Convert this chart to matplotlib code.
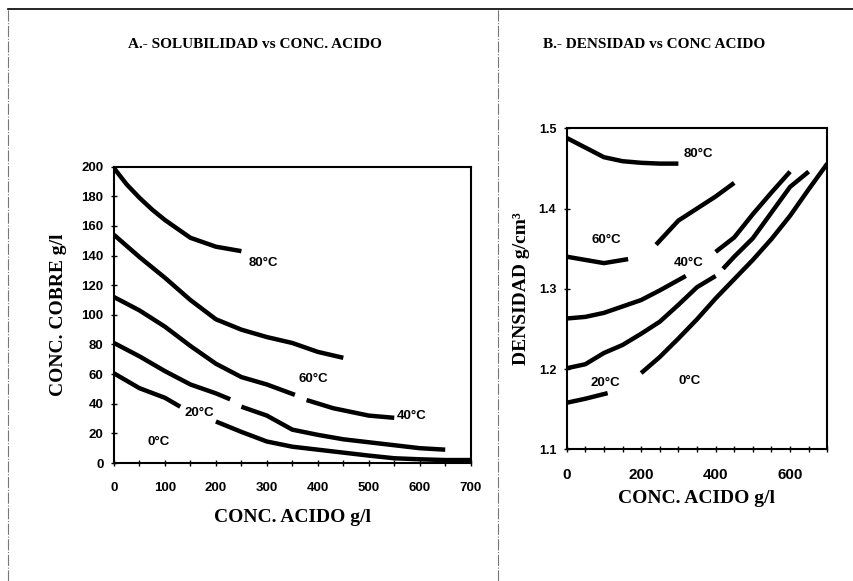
import numpy as np
import matplotlib
matplotlib.use("Agg")
import matplotlib.pyplot as plt
from matplotlib.lines import Line2D

# A: solubilidad (g/l de cobre) vs conc. acido (g/l); nan = corte de la curva
sol_x_80 = [0, 25, 50, 75, 100, 150, 200, 250]
sol_y_80 = [199, 188, 179, 171, 164, 152, 146, 143]
sol_x_60 = [0, 50, 100, 150, 200, 250, 300, 350, 400, 450]
sol_y_60 = [154, 139, 125, 110, 97, 90, 85, 81, 75, 71]
sol_x_40 = [0, 50, 100, 150, 200, 250, 300, 355, 365, 378, 430, 500, 550]
sol_y_40 = [112, 103, 92, 79, 67, 58, 53, 46, np.nan, 42.5, 37, 32, 30.5]
sol_x_20 = [0, 50, 100, 150, 200, 228, 240, 250, 300, 350, 400, 450, 500, 550, 600, 650]
sol_y_20 = [81, 72, 62, 53, 47, 43, np.nan, 38, 32, 22.5, 19, 16, 14, 12, 10, 9]
sol_x_0 = [0, 50, 100, 130, 165, 200, 250, 300, 350, 400, 450, 500, 550, 600, 650, 700]
sol_y_0 = [60.5, 50.5, 44, 38, np.nan, 28, 21, 14.5, 11, 9, 7, 5, 3.2, 2.5, 2, 2]

# B: densidad (g/cm3) vs conc. acido (g/l)
den_x_80 = [0, 50, 100, 150, 200, 250, 300]
den_y_80 = [1.488, 1.476, 1.464, 1.459, 1.457, 1.456, 1.456]
den_x_60 = [0, 50, 100, 165, 200, 240, 300, 350, 400, 450]
den_y_60 = [1.340, 1.336, 1.332, 1.337, np.nan, 1.355, 1.385, 1.400, 1.415, 1.432]
den_x_40 = [0, 50, 100, 150, 200, 250, 320, 360, 400, 450, 500, 550, 600]
den_y_40 = [1.263, 1.265, 1.270, 1.278, 1.286, 1.298, 1.316, np.nan, 1.346, 1.364, 1.393, 1.420, 1.446]
den_x_20 = [0, 50, 100, 150, 200, 250, 300, 350, 400, 410, 420, 450, 500, 550, 600, 650]
den_y_20 = [1.201, 1.206, 1.220, 1.230, 1.244, 1.259, 1.280, 1.302, 1.316, np.nan,
            1.325, 1.340, 1.363, 1.395, 1.427, 1.446]
den_x_0 = [0, 50, 110, 150, 200, 250, 300, 350, 400, 450, 500, 550, 600, 650, 700]
den_y_0 = [1.158, 1.163, 1.170, np.nan, 1.195, 1.215, 1.238, 1.262, 1.288, 1.312,
           1.336, 1.362, 1.391, 1.424, 1.456]

temps = ["80°C", "60°C", "40°C", "20°C", "0°C"]
sol_lab_x = [294, 391, 584, 167, 87]
sol_lab_y = [135, 57, 32, 33.5, 14.4]
den_lab_x = [354, 107, 327, 103, 331]
den_lab_y = [1.468, 1.361, 1.332, 1.182, 1.1855]

serif = "Liberation Serif"
sans = "Liberation Sans"

fig = plt.figure(figsize=(8.54, 5.81), dpi=100)

# marco de la pagina
fig.add_artist(Line2D([8 / 854, 1], [1 - 9 / 581, 1 - 9 / 581], color="black", lw=1.2))
for xf in (8 / 854, 498 / 854):
    fig.add_artist(Line2D([xf, xf], [0, 1 - 9 / 581], color="#777777", lw=0.8,
                          ls=(0, (10, 1.5, 1, 1.5))))

curve_kw = dict(color="black", lw=3.2, solid_capstyle="butt", solid_joinstyle="round")

# ---- A ----
ax1 = fig.add_axes([114 / 854, 1 - 463 / 581, 356.7 / 854, 296.3 / 581])
sol = [(sol_x_80, sol_y_80), (sol_x_60, sol_y_60), (sol_x_40, sol_y_40),
       (sol_x_20, sol_y_20), (sol_x_0, sol_y_0)]
for x, y in sol:
    ax1.plot(x, y, **curve_kw)
for t, lx, ly in zip(temps, sol_lab_x, sol_lab_y):
    ax1.text(lx, ly, t, fontsize=9.5, fontweight="bold", family=sans,
             ha="center", va="center")
ax1.set_xlim(0, 700)
ax1.set_ylim(0, 200)
ax1.set_xticks(np.arange(0, 701, 50))
ax1.set_xticklabels([str(v) if v % 100 == 0 else "" for v in range(0, 701, 50)])
ax1.set_yticks(np.arange(0, 201, 20))
ax1.set_xlabel("CONC. ACIDO g/l", family=serif, fontweight="bold", fontsize=14, labelpad=11)
ax1.set_ylabel("CONC. COBRE g/l", family=serif, fontweight="bold", fontsize=14, labelpad=10)
fig.text(255 / 854, 1 - 45 / 581, "A.- SOLUBILIDAD vs CONC. ACIDO", family=serif,
         fontweight="bold", fontsize=11, ha="center", va="center")

# ---- B ----
ax2 = fig.add_axes([566.7 / 854, 1 - 449.3 / 581, 260.6 / 854, 321 / 581])
den = [(den_x_80, den_y_80), (den_x_60, den_y_60), (den_x_40, den_y_40),
       (den_x_20, den_y_20), (den_x_0, den_y_0)]
for x, y in den:
    ax2.plot(x, y, **curve_kw)
for t, lx, ly in zip(temps, den_lab_x, den_lab_y):
    ax2.text(lx, ly, t, fontsize=9.5, fontweight="bold", family=sans,
             ha="center", va="center")
ax2.set_xlim(0, 700)
ax2.set_ylim(1.1, 1.5)
ax2.set_xticks(np.arange(0, 701, 50))
ax2.set_xticklabels([str(v) if v % 200 == 0 else "" for v in range(0, 701, 50)])
ax2.set_yticks([1.1, 1.2, 1.3, 1.4, 1.5])
ax2.set_yticklabels(["1.1", "1.2", "1.3", "1.4", "1.5"])
ax2.set_xlabel("CONC. ACIDO g/l", family=serif, fontweight="bold", fontsize=14, labelpad=6)
ax2.set_ylabel("DENSIDAD g/cm³", family=serif, fontweight="bold", fontsize=14, labelpad=6)
fig.text(654 / 854, 1 - 45 / 581, "B.- DENSIDAD vs CONC ACIDO", family=serif,
         fontweight="bold", fontsize=11, ha="center", va="center")

for ax, xs, ys in ((ax1, 9.5, 9.5), (ax2, 11, 9)):
    for s in ax.spines.values():
        s.set_linewidth(1.5)
    ax.tick_params(direction="inout", length=5, width=1)
    ax.tick_params(axis="x", pad=11)
    ax.tick_params(axis="y", pad=5)
    for lab in ax.get_xticklabels():
        lab.set_family(sans)
        lab.set_fontweight("bold")
        lab.set_fontsize(xs)
    for lab in ax.get_yticklabels():
        lab.set_family(sans)
        lab.set_fontweight("bold")
        lab.set_fontsize(ys)

fig.savefig("out.png", dpi=100)
